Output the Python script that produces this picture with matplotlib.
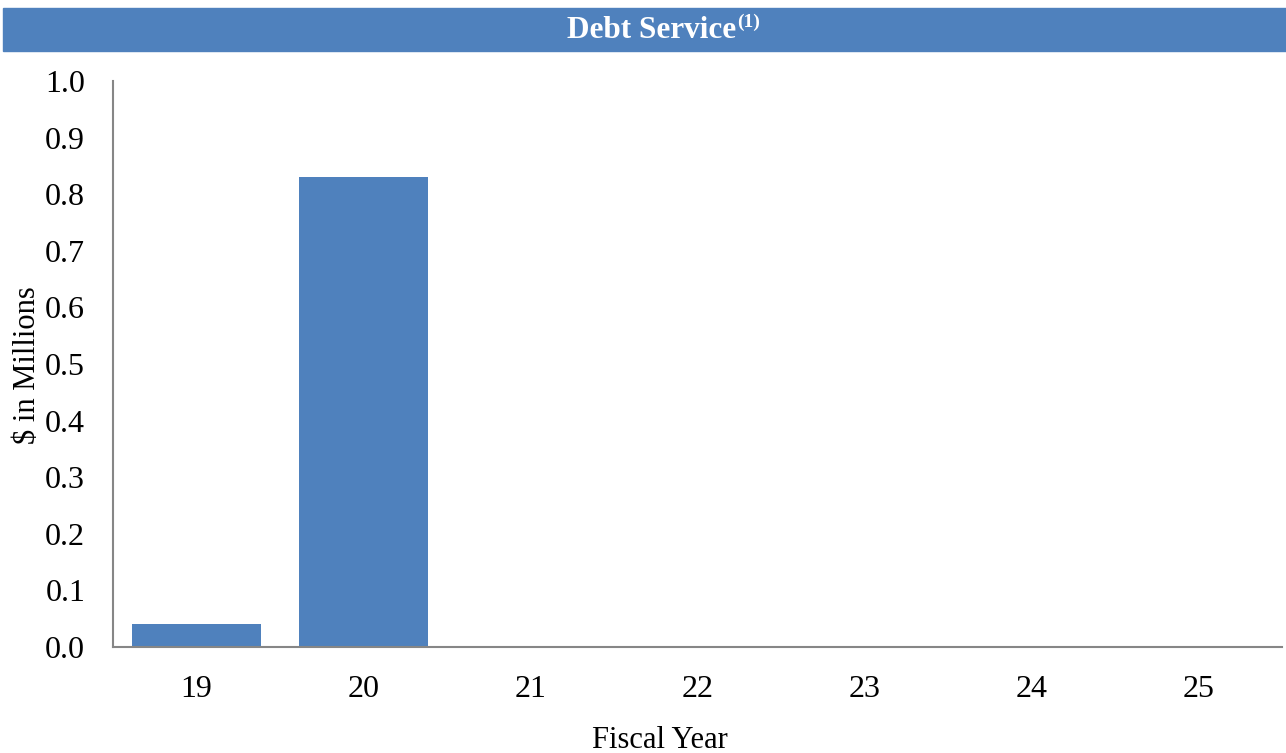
import matplotlib
matplotlib.use("Agg")
import matplotlib.pyplot as plt
from matplotlib.patches import Rectangle

years = ["19", "20", "21", "22", "23", "24", "25"]
debt_service = [0.04, 0.83, 0, 0, 0, 0, 0]
yticks = [0.0, 0.1, 0.2, 0.3, 0.4, 0.5, 0.6, 0.7, 0.8, 0.9, 1.0]

BLUE = "#4F81BD"
GRAY = "#868686"
plt.rcParams["font.family"] = ["Liberation Serif", "DejaVu Serif"]

W, H = 1286, 753
fig = plt.figure(figsize=(W / 100, H / 100), dpi=100)

# title banner
fig.patches.append(Rectangle((3 / W, 1 - 51 / H), 1 - 3 / W, 43 / H,
                             transform=fig.transFigure, color=BLUE, zorder=0))
fig.text(736 / W, 1 - 30 / H, "Debt Service", color="white", fontsize=22.5,
         fontweight="bold", ha="right", va="center")
fig.text(737 / W, 1 - 22 / H, "(1)", color="white", fontsize=14,
         fontweight="bold", ha="left", va="center")

ax = fig.add_axes([113 / W, 1 - 647 / H, 1169 / W, (647 - 81) / H])
x = range(len(years))
ax.bar(x, debt_service, width=0.77, color=BLUE)
ax.set_xlim(-0.5, len(years) - 0.5)
ax.set_ylim(0, 1.0)
ax.set_xticks(list(x))
ax.set_xticklabels(years)
ax.set_yticks(yticks)
ax.set_yticklabels([f"{v:.1f}" for v in yticks])
ax.tick_params(axis="both", length=0, labelsize=23)
ax.tick_params(axis="x", pad=20)
ax.tick_params(axis="y", pad=20)
for s in ["top", "right"]:
    ax.spines[s].set_visible(False)
for s in ["left", "bottom"]:
    ax.spines[s].set_color(GRAY)
    ax.spines[s].set_linewidth(1.5)

fig.text(660 / W, 1 - 740 / H, "Fiscal Year", fontsize=22, ha="center", va="center")
fig.text(28 / W, 1 - 365 / H, r"\$ in Millions", fontsize=22, rotation=90,
         ha="center", va="center")

fig.savefig("out.png", dpi=100)
